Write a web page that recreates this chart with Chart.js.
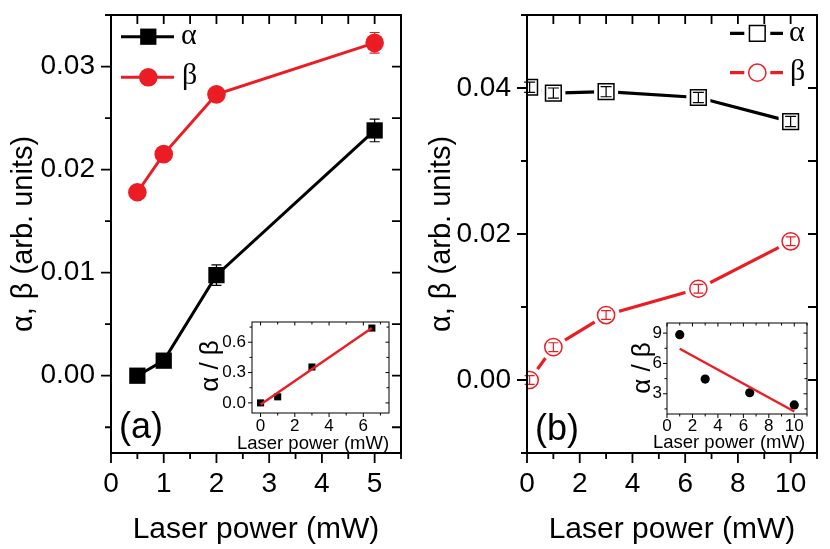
<!DOCTYPE html>
<html>
<head>
<meta charset="utf-8">
<script src="https://cdn.jsdelivr.net/npm/chart.js@4.4.1/dist/chart.umd.min.js"></script>
<style>
html,body{margin:0;padding:0;background:#fff;}
#wrap{position:relative;width:830px;height:549px;overflow:hidden;background:#fff;}
canvas{position:absolute;}
</style>
</head>
<body>
<div id="wrap">
<canvas id="ca" width="415" height="549" style="left:0;top:0;width:415px;height:549px"></canvas>
<canvas id="cb" width="415" height="549" style="left:415px;top:0;width:415px;height:549px"></canvas>
<canvas id="ia" width="250" height="160" style="left:150px;top:300px;width:250px;height:160px"></canvas>
<canvas id="ib" width="225" height="160" style="left:600px;top:300px;width:225px;height:160px"></canvas>
</div>
<script>
// ---------------- data ----------------
const seriesLabels = ['α', 'β'];
const xTitle = 'Laser power (mW)';
const yTitle = 'α, β (arb. units)';
const insetYTitle = 'α / β';
const panelLabels = ['(a)', '(b)'];

// panel (a)
const powerA = [0.5, 1, 2, 5];
const alphaA = [0.0000, 0.00146, 0.00976, 0.0238];
const alphaAErr = [0.0003, 0.0006, 0.0010, 0.0011];
const betaA = [0.0178, 0.0215, 0.0273, 0.0323];
const betaAErr = [0.0003, 0.0004, 0.0004, 0.0010];

// panel (b)
const powerB = [0.1, 1, 3, 6.5, 10];
const alphaB = [0.0401, 0.0393, 0.0395, 0.0387, 0.0354];
const alphaBErr = [0.0007, 0.0007, 0.0007, 0.0007, 0.0007];
const betaB = [0.0000, 0.0045, 0.0089, 0.0125, 0.0190];
const betaBErr = [0.0006, 0.0006, 0.0006, 0.0006, 0.0006];

// inset (a)
const insetPowerA = [0, 1, 3, 6.5];
const ratioA = [0.00, 0.06, 0.355, 0.74];
const fitPowerA = [0, 6.5];
const fitRatioA = [-0.015, 0.74];

// inset (b)
const insetPowerB = [1, 3, 6.5, 10];
const ratioB = [8.85, 4.45, 3.1, 1.9];
const fitPowerB = [1, 10];
const fitRatioB = [7.45, 1.25];

// tick labels (values) and axis ranges
const xTicksA = [0, 1, 2, 3, 4, 5];
const yTicksA = [0, 0.01, 0.02, 0.03];
const xTicksB = [0, 2, 4, 6, 8, 10];
const yTicksB = [0, 0.02, 0.04];
const xTicksIA = [0, 2, 4, 6];
const yTicksIA = [0, 0.3, 0.6];
const xTicksIB = [0, 2, 4, 6, 8, 10];
const yTicksIB = [3, 6, 9];

const axesA = {xMin: 0, xMax: 5.5, xStep: 1, xMinor: 0.5, yMin: -0.0075, yMax: 0.035, yStep: 0.01, yMinor: 0.005};
const axesB = {xMin: 0, xMax: 11, xStep: 2, xMinor: 1, yMin: -0.01, yMax: 0.05, yStep: 0.02, yMinor: 0.01};
const axesIA = {xMin: -0.5, xMax: 7.5, xStep: 2, xMinor: 1, yMin: -0.1, yMax: 0.8, yStep: 0.3, yMinor: 0.15};
const axesIB = {xMin: 0, xMax: 11, xStep: 2, xMinor: 1, yMin: 1, yMax: 10, yStep: 3, yMinor: 1.5};

// ---------------- helpers ----------------
const FONT = "'Liberation Sans', Arial, Helvetica, sans-serif";
const SERIF = "'Liberation Serif', 'Times New Roman', serif";
const RED = '#ec1c24';
const pts = (xs, ys) => xs.map((x, i) => ({x: x, y: ys[i]}));
const isMult = (v, s) => Math.abs(v / s - Math.round(v / s)) < 1e-6;

function framePlugin(f) {
  return {
    id: 'frame',
    afterDraw(chart) {
      const {ctx, chartArea: a} = chart;
      const xs = chart.scales.x, ys = chart.scales.y;
      const each = (scale, minor, major, fn) => {
        const n0 = Math.ceil(scale.min / minor - 1e-6), n1 = Math.floor(scale.max / minor + 1e-6);
        for (let n = n0; n <= n1; n++) {
          const v = n * minor;
          fn(scale.getPixelForValue(v), isMult(v, major));
        }
      };
      ctx.save();
      ctx.strokeStyle = '#000';
      ctx.lineWidth = f.tickWidth;
      ctx.beginPath();
      each(xs, f.t.xMinor, f.t.xStep, (p, M) => {
        ctx.moveTo(p, a.bottom); ctx.lineTo(p, a.bottom + (M ? f.outMajor : f.outMinor));
        ctx.moveTo(p, a.top); ctx.lineTo(p, a.top + (M ? f.inMajor : f.inMinor));
      });
      each(ys, f.t.yMinor, f.t.yStep, (p, M) => {
        ctx.moveTo(a.left, p); ctx.lineTo(a.left - (M ? f.outMajor : f.outMinor), p);
        ctx.moveTo(a.right, p); ctx.lineTo(a.right - (M ? f.inMajor : f.inMinor), p);
      });
      ctx.stroke();
      ctx.lineWidth = f.boxWidth;
      ctx.strokeRect(a.left, a.top, a.width, a.height);
      ctx.restore();
    }
  };
}

const errorPlugin = {
  id: 'errbars',
  afterDatasetsDraw(chart) {
    const {ctx} = chart; const ys = chart.scales.y;
    ctx.save();
    chart.data.datasets.forEach((ds, di) => {
      if (!ds.errors) return;
      const meta = chart.getDatasetMeta(di);
      ctx.strokeStyle = ds.errorColor;
      ctx.lineWidth = 1.2;
      ds.data.forEach((d, i) => {
        const el = meta.data[i]; const e = ds.errors[i]; const c = ds.errorCap;
        const x = el.x, y1 = ys.getPixelForValue(d.y + e), y2 = ys.getPixelForValue(d.y - e);
        ctx.beginPath();
        ctx.moveTo(x, y1); ctx.lineTo(x, y2);
        ctx.moveTo(x - c, y1); ctx.lineTo(x + c, y1);
        ctx.moveTo(x - c, y2); ctx.lineTo(x + c, y2);
        ctx.stroke();
      });
    });
    ctx.restore();
  }
};

function textPlugin(items) {
  return {
    id: 'texts',
    afterDraw(chart) {
      const ctx = chart.ctx;
      items.forEach(t => {
        ctx.save();
        ctx.translate(t.x, t.y);
        if (t.rot) ctx.rotate(t.rot);
        ctx.font = t.font;
        ctx.fillStyle = '#000';
        ctx.textAlign = t.align || 'center';
        ctx.textBaseline = 'alphabetic';
        ctx.fillText(t.text, 0, 0);
        ctx.restore();
      });
    }
  };
}

function drawMarker(ctx, ds, x, y) {
  const r = ds.pointRadius;
  ctx.save();
  ctx.fillStyle = ds.pointBackgroundColor;
  ctx.strokeStyle = ds.pointBorderColor;
  ctx.lineWidth = ds.pointBorderWidth;
  ctx.beginPath();
  if (ds.pointStyle === 'rect') {
    const s = r * Math.SQRT1_2;
    ctx.rect(x - s, y - s, 2 * s, 2 * s);
  } else {
    ctx.arc(x, y, r, 0, Math.PI * 2);
  }
  ctx.fill();
  if (ds.pointBorderWidth > 0) ctx.stroke();
  ctx.restore();
}

function legendPlugin(items) {
  return {
    id: 'miniLegend',
    afterDraw(chart) {
      const ctx = chart.ctx;
      items.forEach(it => {
        const ds = chart.data.datasets[it.dataset];
        ctx.save();
        ctx.strokeStyle = ds.pointBorderColor;
        ctx.lineWidth = it.lw;
        ctx.beginPath();
        if (it.gap) {
          ctx.moveTo(it.x0, it.y); ctx.lineTo(it.mx - it.gap, it.y);
          ctx.moveTo(it.mx + it.gap, it.y); ctx.lineTo(it.x1, it.y);
        } else {
          ctx.moveTo(it.x0, it.y); ctx.lineTo(it.x1, it.y);
        }
        ctx.stroke();
        drawMarker(ctx, ds, it.mx, it.y);
        ctx.fillStyle = '#000';
        ctx.font = it.font;
        ctx.textAlign = 'left';
        ctx.textBaseline = 'alphabetic';
        ctx.fillText(it.text, it.tx, it.base);
        ctx.restore();
      });
    }
  };
}

function zeroPad(s) { s.paddingTop = 0; s.paddingBottom = 0; s.paddingLeft = 0; s.paddingRight = 0; }

function makeChart(id, o) {
  const t = o.t;
  return new Chart(document.getElementById(id), {
    type: 'scatter',
    data: {datasets: o.datasets},
    options: {
      responsive: false, animation: false, devicePixelRatio: 1,
      events: [],
      layout: {padding: o.padding, autoPadding: false},
      plugins: {legend: {display: false}, tooltip: {enabled: false}},
      elements: {point: {hoverRadius: 0}},
      scales: {
        x: {
          type: 'linear', position: 'bottom', min: t.xMin, max: t.xMax,
          grid: {display: false, drawTicks: false}, border: {display: false},
          ticks: {autoSkip: false, maxRotation: 0,
                  padding: o.xPad, color: '#000', font: {family: FONT, size: o.tickSize},
                  callback: v => String(Math.round(v * 100) / 100)},
          afterBuildTicks: s => { s.ticks = o.xTicks.map(v => ({value: v})); },
          afterFit: s => { s.height = o.xH; zeroPad(s); }
        },
        y: {
          type: 'linear', position: 'left', min: t.yMin, max: t.yMax,
          grid: {display: false, drawTicks: false}, border: {display: false},
          ticks: {autoSkip: false,
                  padding: o.yPad, color: '#000', font: {family: FONT, size: o.tickSize},
                  callback: v => v.toFixed(o.yDec)},
          afterBuildTicks: s => { s.ticks = o.yTicks.map(v => ({value: v})); },
          afterFit: s => { s.width = o.yW; zeroPad(s); }
        }
      }
    },
    plugins: [framePlugin(o.frame), errorPlugin, textPlugin(o.texts), legendPlugin(o.legend || [])]
  });
}

// ---------------- panel (a) ----------------
const dsA = [
  {label: seriesLabels[0], data: pts(powerA, alphaA), showLine: true, borderColor: '#000', borderWidth: 3,
   pointStyle: 'rect', pointRadius: 11.5, pointBackgroundColor: '#000', pointBorderColor: '#000', pointBorderWidth: 0,
   errors: alphaAErr, errorColor: '#000', errorCap: 5, order: 2},
  {label: seriesLabels[1], data: pts(powerA, betaA), showLine: true, borderColor: RED, borderWidth: 3,
   pointStyle: 'circle', pointRadius: 9.3, pointBackgroundColor: RED, pointBorderColor: RED, pointBorderWidth: 0,
   errors: betaAErr, errorColor: RED, errorCap: 5, order: 1}
];
makeChart('ca', {
  t: axesA, datasets: dsA, xTicks: xTicksA, yTicks: yTicksA,
  padding: {left: 0, right: 14, top: 15, bottom: 0},
  xH: 96, yW: 111, xPad: 14, yPad: 16, yDec: 2, tickSize: 28,
  frame: {t: axesA, tickWidth: 1.8, boxWidth: 2, outMajor: 10, outMinor: 6, inMajor: 9, inMinor: 9},
  texts: [
    {text: yTitle, x: 32, y: 234, rot: -Math.PI / 2, font: '29px ' + FONT},
    {text: xTitle, x: 256, y: 538, font: '30px ' + FONT},
    {text: panelLabels[0], x: 119, y: 438, align: 'left', font: '36px ' + FONT}
  ],
  legend: [
    {dataset: 0, text: seriesLabels[0], y: 36.7, x0: 121, x1: 174, mx: 148.3, tx: 181, base: 44, lw: 3, font: '30px ' + SERIF},
    {dataset: 1, text: seriesLabels[1], y: 77.3, x0: 121, x1: 174, mx: 148.3, tx: 182, base: 84, lw: 3, font: '30px ' + SERIF}
  ]
});

// ---------------- panel (b) ----------------
const alphaMarkB = {label: seriesLabels[0], data: pts(powerB, alphaB), showLine: false, clip: 0,
   pointStyle: 'rect', pointRadius: 11.1, pointBackgroundColor: '#fff', pointBorderColor: '#000', pointBorderWidth: 1.5,
   errors: alphaBErr, errorColor: '#000', errorCap: 5.5, order: 1};
const betaMarkB = {label: seriesLabels[1], data: pts(powerB, betaB), showLine: false, clip: 0,
   pointStyle: 'circle', pointRadius: 8.6, pointBackgroundColor: '#fff', pointBorderColor: RED, pointBorderWidth: 1.5,
   errors: betaBErr, errorColor: RED, errorCap: 5, order: 1};
const dsB = [
  alphaMarkB, betaMarkB,
  {data: pts(powerB, alphaB), showLine: true, borderColor: '#000', borderWidth: 3.2, pointRadius: 0, clip: 0, order: 5},
  {data: pts(powerB, betaB), showLine: true, borderColor: RED, borderWidth: 3.2, pointRadius: 0, clip: 0, order: 5},
  {data: pts(powerB, alphaB), showLine: false, pointStyle: 'rect', pointRadius: 17, pointBackgroundColor: '#fff',
   pointBorderColor: '#fff', pointBorderWidth: 0, clip: 0, order: 3},
  {data: pts(powerB, betaB), showLine: false, pointStyle: 'circle', pointRadius: 13.5, pointBackgroundColor: '#fff',
   pointBorderColor: '#fff', pointBorderWidth: 0, clip: 0, order: 3}
];
makeChart('cb', {
  t: axesB, datasets: dsB, xTicks: xTicksB, yTicks: yTicksB,
  padding: {left: 0, right: 13, top: 15, bottom: 0},
  xH: 96, yW: 112, xPad: 14, yPad: 16, yDec: 2, tickSize: 28,
  frame: {t: axesB, tickWidth: 1.8, boxWidth: 2, outMajor: 10, outMinor: 6, inMajor: 9, inMinor: 9},
  texts: [
    {text: yTitle, x: 35, y: 234, rot: -Math.PI / 2, font: '29px ' + FONT},
    {text: xTitle, x: 257, y: 538, font: '30px ' + FONT},
    {text: panelLabels[1], x: 120, y: 440, align: 'left', font: '36px ' + FONT}
  ],
  legend: [
    {dataset: 0, text: seriesLabels[0], y: 33.3, x0: 315, x1: 368, mx: 342.3, gap: 13, tx: 374, base: 40.5, lw: 3.2, font: '30px ' + SERIF},
    {dataset: 1, text: seriesLabels[1], y: 72.7, x0: 315, x1: 368, mx: 342.3, gap: 13, tx: 375, base: 80, lw: 3.2, font: '30px ' + SERIF}
  ]
});

// ---------------- inset (a) ----------------
makeChart('ia', {
  t: axesIA, xTicks: xTicksIA, yTicks: yTicksIA,
  datasets: [
    {data: pts(fitPowerA, fitRatioA), showLine: true, borderColor: RED, borderWidth: 2.4, pointRadius: 0, order: 0},
    {data: pts(insetPowerA, ratioA), showLine: false, pointStyle: 'rect', pointRadius: 5,
     pointBackgroundColor: '#000', pointBorderColor: '#000', pointBorderWidth: 0, order: 1}
  ],
  padding: {left: 0, right: 11, top: 22, bottom: 0},
  xH: 47, yW: 102, xPad: 3, yPad: 6, yDec: 1, tickSize: 17,
  frame: {t: axesIA, tickWidth: 1, boxWidth: 1, outMajor: 4, outMinor: 2.5, inMajor: 3.5, inMinor: 2.5},
  texts: [
    {text: insetYTitle, x: 68, y: 66, rot: -Math.PI / 2, font: '26px ' + FONT},
    {text: xTitle, x: 163, y: 149, font: '18.5px ' + FONT}
  ]
});

// ---------------- inset (b) ----------------
makeChart('ib', {
  t: axesIB, xTicks: xTicksIB, yTicks: yTicksIB,
  datasets: [
    {data: pts(fitPowerB, fitRatioB), showLine: true, borderColor: RED, borderWidth: 2.4, pointRadius: 0, order: 0},
    {data: pts(insetPowerB, ratioB), showLine: false, pointStyle: 'circle', pointRadius: 4.6,
     pointBackgroundColor: '#000', pointBorderColor: '#000', pointBorderWidth: 0, order: 1}
  ],
  padding: {left: 0, right: 18, top: 23, bottom: 0},
  xH: 46, yW: 67, xPad: 2, yPad: 5, yDec: 0, tickSize: 17,
  frame: {t: axesIB, tickWidth: 1, boxWidth: 1, outMajor: 4, outMinor: 2.5, inMajor: 3.5, inMinor: 2.5},
  texts: [
    {text: insetYTitle, x: 50, y: 68, rot: -Math.PI / 2, font: '26px ' + FONT},
    {text: xTitle, x: 129, y: 148, font: '18.5px ' + FONT}
  ]
});
</script>
</body>
</html>
